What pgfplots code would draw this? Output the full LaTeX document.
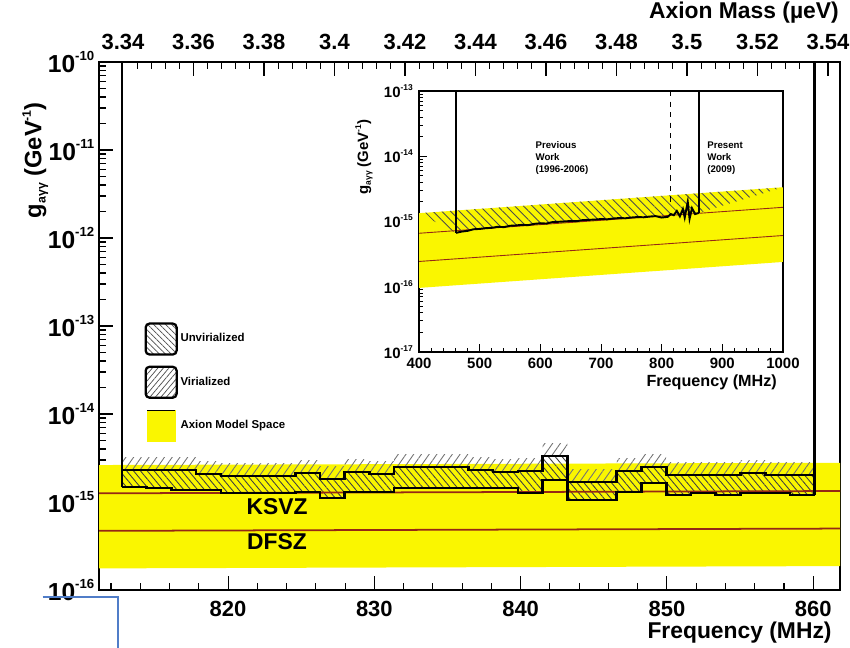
\documentclass[border=0pt]{standalone}
\usepackage{fontspec}
\setmainfont{Liberation Sans}
\usepackage{pgfplots}
\pgfplotsset{compat=1.18}
\usepackage{pgfplotstable}
\usepgfplotslibrary{fillbetween}
\usetikzlibrary{patterns.meta}

\definecolor{ay}{RGB}{250,246,0}
\definecolor{kred}{RGB}{150,40,20}
\definecolor{bbl}{RGB}{80,125,200}

% tick label "10^e" (main and inset sizes)
\newcommand{\tlm}[1]{\fontsize{14}{15}\selectfont 10\raisebox{6.5pt}{\fontsize{7.5}{8}\selectfont #1}}
\newcommand{\tli}[1]{\fontsize{8.5}{9}\selectfont 10\raisebox{3.9pt}{\fontsize{4.8}{5}\selectfont #1}}

% main plot: 28 bins, limits (GeV^-1)
\pgfplotstableread{
f lo up vt
812.75 1.48e-15 2.31e-15 3.23e-15
814.44 1.44e-15 2.31e-15 3.23e-15
816.13 1.37e-15 2.31e-15 3.23e-15
817.82 1.37e-15 2.08e-15 2.91e-15
819.51 1.27e-15 1.97e-15 2.76e-15
821.21 1.27e-15 1.97e-15 2.76e-15
822.90 1.27e-15 1.97e-15 2.76e-15
824.59 1.30e-15 2.14e-15 3.00e-15
826.28 1.11e-15 1.83e-15 2.56e-15
827.97 1.30e-15 2.19e-15 3.07e-15
829.66 1.30e-15 2.08e-15 2.91e-15
831.35 1.44e-15 2.50e-15 3.50e-15
833.04 1.44e-15 2.50e-15 3.50e-15
834.73 1.44e-15 2.50e-15 3.50e-15
836.42 1.44e-15 2.31e-15 3.23e-15
838.12 1.44e-15 2.19e-15 3.07e-15
839.81 1.27e-15 2.25e-15 3.15e-15
841.50 1.78e-15 3.33e-15 4.66e-15
843.19 1.05e-15 1.69e-15 2.37e-15
844.88 1.05e-15 1.69e-15 2.37e-15
846.57 1.30e-15 2.25e-15 3.15e-15
848.26 1.64e-15 2.50e-15 3.50e-15
849.95 1.20e-15 2.03e-15 2.84e-15
851.64 1.27e-15 2.03e-15 2.84e-15
853.33 1.20e-15 2.03e-15 2.84e-15
855.03 1.27e-15 2.14e-15 3.00e-15
856.72 1.27e-15 2.03e-15 2.84e-15
858.41 1.20e-15 2.03e-15 2.84e-15
860.10 1.20e-15 2.03e-15 2.84e-15
}\steps

% inset: exclusion curve
\pgfplotstableread{
f g
461 6.7e-16
470 7.0e-16
480 7.2e-16
490 7.6e-16
500 7.7e-16
510 7.9e-16
520 8.0e-16
530 8.3e-16
540 8.2e-16
550 8.6e-16
560 8.7e-16
570 8.9e-16
580 8.8e-16
590 9.2e-16
600 9.4e-16
610 9.3e-16
620 9.8e-16
630 9.9e-16
640 1.00e-15
650 1.02e-15
660 1.01e-15
670 1.05e-15
680 1.06e-15
690 1.07e-15
700 1.09e-15
710 1.08e-15
720 1.11e-15
730 1.13e-15
740 1.12e-15
750 1.15e-15
760 1.17e-15
770 1.16e-15
780 1.19e-15
790 1.21e-15
800 1.15e-15
810 1.18e-15
815 1.30e-15
820 1.25e-15
825 1.45e-15
830 1.20e-15
835 1.55e-15
838 1.15e-15
843 2.0e-15
846 1.1e-15
850 1.6e-15
855 1.3e-15
861 1.35e-15
}\insetc

\begin{document}
\begin{tikzpicture}[font=\bfseries]

% ---------- main axis ----------
\begin{axis}[
  at={(19.8mm,11.6mm)}, anchor=south west,
  width=148.2mm, height=105.6mm, scale only axis,
  xmin=811.18, xmax=861.83,
  ymode=log, ymin=1e-16, ymax=1e-10,
  xtick={820,830,840,850,860},
  minor xtick={812,814,...,860},
  xtick pos=bottom, ytick pos=left,
  tick align=inside,
  major tick length=2.8mm, minor tick length=1.4mm,
  ytick={1e-16,1e-15,1e-14,1e-13,1e-12,1e-11,1e-10},
  yticklabels={\tlm{-16},\tlm{-15},\tlm{-14},\tlm{-13},\tlm{-12},\tlm{-11},\tlm{-10}},
  /pgf/number format/assume math mode=true,
  ticklabel style={font=\fontsize{12.5}{14}\selectfont\bfseries},
  xticklabel style={yshift=-1mm},
  yticklabel style={xshift=0.3mm},
  axis line style={line width=0.9pt},
  every tick/.style={black, line width=0.6pt},
  xlabel={Frequency (MHz)},
  xlabel style={at={(axis description cs:0.997,-0.08)}, anchor=east, font=\fontsize{13}{15}\selectfont\bfseries},
  ylabel={g\raisebox{-2.5pt}{\fontsize{7}{8}\selectfont aγγ} (GeV\raisebox{6pt}{\fontsize{7}{8}\selectfont -1})},
  ylabel style={at={(axis description cs:-0.086,0.814)}, anchor=center, font=\fontsize{13.5}{15}\selectfont\bfseries},
  legend style={at={(axis description cs:0.062,0.506)}, anchor=north west, draw=none, fill=none,
     inner sep=0pt, row sep=2.3mm, font=\fontsize{6.5}{7.5}\selectfont\bfseries},
  legend cell align=left,
]
\addlegendimage{legend image code/.code={\draw[line width=1.3pt, rounded corners=0.8mm, pattern={Lines[angle=-45,distance=2.4pt,line width=0.4pt]}, pattern color=black!70] (0mm,-3.1mm) rectangle (6.2mm,3.1mm);}}
\addlegendentry{Unvirialized}
\addlegendimage{legend image code/.code={\draw[line width=1.3pt, rounded corners=0.8mm, pattern={Lines[angle=50,distance=2.4pt,line width=0.4pt]}, pattern color=black!70] (0mm,-3.1mm) rectangle (6.2mm,3.1mm);}}
\addlegendentry{Virialized}
\addlegendimage{legend image code/.code={\fill[ay] (0.3mm,-3.1mm) rectangle (5.9mm,3.1mm); \draw[line width=0.7pt] (0.3mm,3.1mm) -- (5.9mm,3.1mm);}}
\addlegendentry{Axion Model Space}

% axion model band
\addplot[name path=ybot, draw=none] coordinates {(811.18,1.76e-16) (861.83,1.87e-16)};
\addplot[name path=ytop, draw=none] coordinates {(811.18,2.63e-15) (861.83,2.79e-15)};
\addplot[ay] fill between[of=ytop and ybot];
% KSVZ, DFSZ
\addplot[kred, line width=1pt] coordinates {(811.18,1.255e-15) (861.83,1.333e-15)};
\addplot[kred, line width=1pt] coordinates {(811.18,4.70e-16) (861.83,4.99e-16)};

% exclusion limits
\addplot[const plot, draw=none, name path=lo] table[x=f,y=lo]{\steps};
\addplot[const plot, draw=none, name path=up] table[x=f,y=up]{\steps};
\addplot[const plot, draw=none, name path=vt] table[x=f,y=vt]{\steps};
\addplot[pattern={Lines[angle=-50,distance=3pt,line width=0.5pt]}, pattern color=black!75] fill between[of=up and lo];
\addplot[pattern={Lines[angle=55,distance=3.6pt,line width=0.5pt]}, pattern color=black!55] fill between[of=vt and up];
\addplot[const plot, black, line width=1.5pt] table[x=f,y=lo]{\steps};
\addplot[const plot, black, line width=1.5pt] table[x=f,y=up]{\steps};
\addplot[black, line width=1.5pt] coordinates {(812.75,1e-10) (812.75,1.48e-15)};
\addplot[black, line width=1.5pt] coordinates {(860.10,1.20e-15) (860.10,1e-10)};

\node[font=\fontsize{13}{15}\selectfont\bfseries] at (axis cs:823.35,8.77e-16) {KSVZ};
\node[font=\fontsize{13}{15}\selectfont\bfseries] at (axis cs:823.35,3.51e-16) {DFSZ};
\end{axis}

% ---------- top axis (axion mass) ----------
\begin{axis}[
  at={(19.8mm,11.6mm)}, anchor=south west,
  width=148.2mm, height=105.6mm, scale only axis,
  xmin=3.3332, xmax=3.5434, ymin=0, ymax=1,
  axis x line*=top, axis y line=none,
  xtick={3.34,3.36,3.38,3.40,3.42,3.44,3.46,3.48,3.50,3.52,3.54},
  xticklabels={3.34,3.36,3.38,3.4,3.42,3.44,3.46,3.48,3.5,3.52,3.54},
  minor x tick num=4,
  tick align=inside,
  major tick length=2.8mm, minor tick length=1.4mm,
  ticklabel style={font=\fontsize{12.5}{14}\selectfont\bfseries},
  xticklabel style={yshift=1.3mm},
  axis line style={line width=0.9pt},
  every tick/.style={black, line width=0.6pt},
  xlabel={Axion Mass (µeV)},
  xlabel style={at={(axis description cs:1.0067,1.093)}, anchor=east, font=\fontsize{13}{15}\selectfont\bfseries},
]
\addplot[draw=none] coordinates {(3.34,0.5) (3.50,0.5)};
\end{axis}

% ---------- inset ----------
\begin{axis}[
  at={(83.8mm,59.2mm)}, anchor=south west,
  width=72.8mm, height=52.2mm, scale only axis,
  axis background/.style={fill=white},
  xmin=400, xmax=1000,
  ymode=log, ymin=1e-17, ymax=1e-13,
  xtick={400,500,600,700,800,900,1000},
  xticklabels={400,500,600,700,800,900,1000},
  minor x tick num=4,
  ytick={1e-17,1e-16,1e-15,1e-14,1e-13},
  yticklabels={\tli{-17},\tli{-16},\tli{-15},\tli{-14},\tli{-13}},
  xtick pos=bottom, ytick pos=left, tick align=inside,
  major tick length=1.6mm, minor tick length=0.8mm,
  ticklabel style={font=\fontsize{8.5}{10}\selectfont\bfseries},
  axis line style={line width=0.6pt},
  every tick/.style={black, line width=0.5pt},
  xlabel={Frequency (MHz)},
  xlabel style={at={(axis description cs:1,-0.117)}, anchor=east, font=\fontsize{9.2}{10}\selectfont\bfseries},
  ylabel={g\raisebox{-1.6pt}{\fontsize{4.8}{5}\selectfont aγγ} (GeV\raisebox{3.9pt}{\fontsize{4.8}{5}\selectfont -1})},
  ylabel style={at={(axis description cs:-0.151,0.747)}, anchor=center, font=\fontsize{8.5}{10}\selectfont\bfseries},
]
\addplot[name path=ib, draw=none] coordinates {(400,9.6e-17) (1000,2.4e-16)};
\addplot[name path=it, draw=none] coordinates {(400,1.34e-15) (1000,3.35e-15)};
\addplot[ay] fill between[of=it and ib];
\addplot[kred, line width=0.5pt] coordinates {(400,6.6e-16) (1000,1.65e-15)};
\addplot[kred, line width=0.5pt] coordinates {(400,2.44e-16) (1000,6.1e-16)};
\addplot[name path=cur, draw=none] table[x=f,y=g]{\insetc};
\addplot[pattern={Lines[angle=-45,distance=3.5pt,line width=0.5pt]}, pattern color=black!70] fill between[of=it and cur, soft clip={domain=461:861}];
\addplot[black, line width=1.1pt] table[x=f,y=g]{\insetc};
\addplot[black, line width=1.1pt] coordinates {(461,1e-13) (461,6.7e-16)};
\addplot[black, line width=1.1pt] coordinates {(861,1.35e-15) (861,1e-13)};
\addplot[black, dashed, line width=0.4pt] coordinates {(814,1e-13) (814,2.0e-15)};
\node[anchor=west, align=left, font=\fontsize{5.5}{6.8}\selectfont\bfseries] at (axis cs:582,9.4e-15) {Previous\\Work\\(1996-2006)};
\node[anchor=west, align=left, font=\fontsize{5.5}{6.8}\selectfont\bfseries] at (axis cs:865,9.4e-15) {Present\\Work\\(2009)};
\end{axis}

% stray blue bracket of the reference image
\draw[bbl, line width=0.45mm] (8.5mm,10.2mm) -- (23.6mm,10.2mm) -- (23.6mm,0mm);
\pgfresetboundingbox
\path[use as bounding box] (0,0) rectangle (170mm,129.6mm);
\end{tikzpicture}
\end{document}
